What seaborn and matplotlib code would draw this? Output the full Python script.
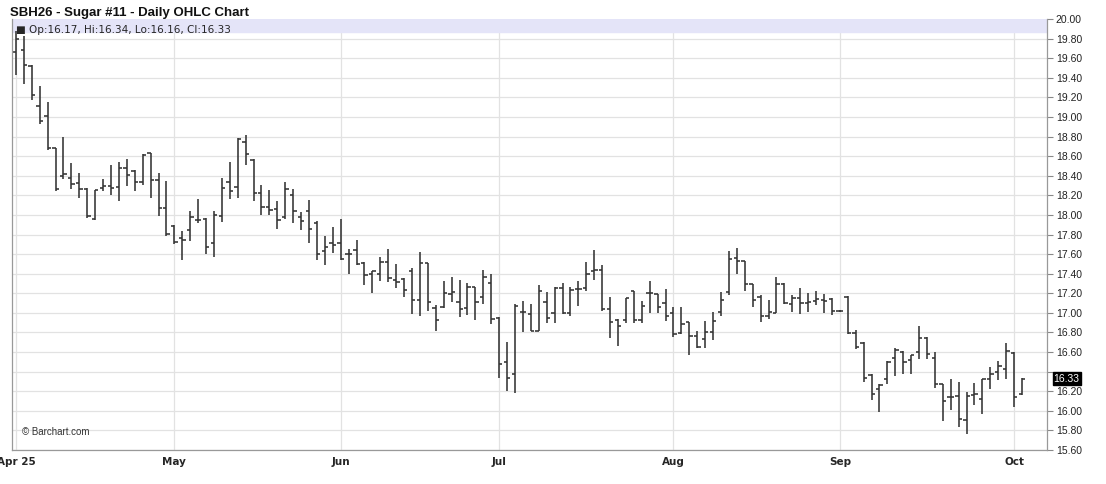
import numpy as np
import pandas as pd
import matplotlib
matplotlib.use("Agg")
import matplotlib.pyplot as plt
import seaborn as sns

# daily OHLC values (SBH26, Apr -> Oct)
opens = [19.66, 19.68, 19.52, 19.11, 19.01, 18.68, 18.40, 18.38, 18.33, 18.26,
         17.96, 18.28, 18.30, 18.29, 18.48, 18.45, 18.34, 18.63, 18.36, 18.07,
         17.89, 17.76, 17.85, 17.95, 17.96, 17.71, 17.99, 18.34, 18.29, 18.74,
         18.56, 18.22, 18.08, 18.06, 17.98, 18.20, 17.98, 18.04, 17.92, 17.63,
         17.71, 17.71, 17.60, 17.64, 17.51, 17.40, 17.40, 17.52, 17.34, 17.35,
         17.43, 17.13, 17.51, 17.05, 17.06, 17.19, 17.11, 17.05, 17.26, 17.16,
         17.30, 16.95, 16.50, 16.38, 17.01, 16.99, 16.81, 17.11, 17.00, 17.25,
         17.00, 17.24, 17.25, 17.43, 17.44, 17.04, 16.93, 16.93, 17.22, 16.93,
         17.20, 17.19, 17.10, 17.00, 16.79, 16.91, 16.76, 16.73, 16.80, 17.01,
         17.21, 17.56, 17.53, 17.29, 17.16, 16.97, 17.00, 17.29, 17.09, 17.15,
         17.10, 17.12, 17.13, 17.14, 17.02, 17.16, 16.79, 16.69, 16.37, 16.22,
         16.32, 16.54, 16.60, 16.52, 16.60, 16.74, 16.54, 16.27, 16.14, 16.15,
         15.91, 16.16, 16.12, 16.33, 16.40, 16.43, 16.59, 16.17]
highs = [19.88, 19.83, 19.53, 19.32, 19.15, 18.68, 18.80, 18.53, 18.43, 18.27,
         18.25, 18.37, 18.51, 18.54, 18.57, 18.46, 18.62, 18.63, 18.43, 18.35,
         17.90, 17.84, 18.04, 18.16, 17.97, 18.04, 18.38, 18.54, 18.79, 18.82,
         18.57, 18.31, 18.25, 18.14, 18.34, 18.26, 18.03, 18.15, 17.94, 17.78,
         17.88, 17.96, 17.65, 17.74, 17.52, 17.43, 17.57, 17.65, 17.50, 17.36,
         17.46, 17.62, 17.51, 17.08, 17.33, 17.37, 17.34, 17.31, 17.26, 17.44,
         17.40, 16.96, 16.70, 17.09, 17.12, 17.09, 17.28, 17.21, 17.26, 17.31,
         17.26, 17.33, 17.52, 17.64, 17.49, 17.16, 16.94, 17.15, 17.22, 17.12,
         17.33, 17.19, 17.24, 17.06, 17.06, 16.91, 16.81, 16.92, 17.01, 17.21,
         17.63, 17.66, 17.53, 17.29, 17.18, 17.13, 17.37, 17.31, 17.18, 17.25,
         17.20, 17.22, 17.19, 17.15, 17.03, 17.17, 16.83, 16.70, 16.38, 16.27,
         16.51, 16.64, 16.61, 16.57, 16.87, 16.75, 16.60, 16.27, 16.33, 16.29,
         16.19, 16.28, 16.33, 16.45, 16.51, 16.69, 16.60, 16.34]
lows = [19.43, 19.34, 19.17, 18.93, 18.66, 18.24, 18.37, 18.26, 18.17, 17.97,
        17.95, 18.24, 18.20, 18.14, 18.30, 18.24, 18.31, 18.17, 17.99, 17.78,
        17.70, 17.54, 17.73, 17.92, 17.60, 17.57, 17.93, 18.16, 18.17, 18.51,
        18.14, 18.00, 18.00, 17.86, 17.96, 17.92, 17.85, 17.71, 17.54, 17.49,
        17.61, 17.54, 17.40, 17.49, 17.28, 17.20, 17.33, 17.32, 17.25, 17.16,
        16.99, 16.97, 17.02, 16.81, 17.05, 17.11, 16.96, 16.98, 16.93, 17.09,
        16.89, 16.34, 16.20, 16.18, 16.80, 16.81, 16.81, 16.90, 16.90, 16.99,
        16.97, 17.07, 17.22, 17.34, 17.02, 16.74, 16.66, 16.90, 16.90, 16.90,
        17.00, 17.00, 16.92, 16.75, 16.78, 16.57, 16.64, 16.64, 16.72, 16.97,
        17.18, 17.40, 17.22, 17.06, 16.91, 16.94, 17.00, 17.09, 17.01, 16.99,
        17.01, 17.08, 17.00, 16.98, 17.01, 16.78, 16.63, 16.29, 16.11, 15.99,
        16.27, 16.36, 16.38, 16.38, 16.53, 16.53, 16.23, 15.90, 16.01, 15.84,
        15.76, 16.06, 15.97, 16.22, 16.31, 16.32, 16.04, 16.16]
closes = [19.80, 19.53, 19.22, 18.96, 18.68, 18.26, 18.42, 18.32, 18.26, 17.99,
          18.25, 18.30, 18.28, 18.48, 18.41, 18.34, 18.61, 18.36, 18.07, 17.81,
          17.72, 17.74, 17.98, 17.95, 17.67, 18.00, 18.27, 18.24, 18.78, 18.62,
          18.22, 18.08, 18.05, 17.95, 18.26, 18.04, 17.94, 17.86, 17.60, 17.67,
          17.69, 17.55, 17.60, 17.50, 17.39, 17.43, 17.52, 17.36, 17.32, 17.23,
          17.13, 17.51, 17.11, 16.93, 17.20, 17.21, 17.04, 17.26, 17.11, 17.37,
          16.94, 16.48, 16.34, 17.07, 17.01, 16.82, 17.22, 16.95, 17.25, 17.00,
          17.23, 17.24, 17.40, 17.44, 17.04, 16.91, 16.87, 17.15, 16.93, 17.07,
          17.20, 17.06, 16.97, 16.78, 16.89, 16.76, 16.65, 16.80, 16.92, 17.13,
          17.55, 17.53, 17.29, 17.13, 16.97, 17.01, 17.29, 17.10, 17.15, 17.10,
          17.11, 17.14, 17.12, 17.02, 17.02, 16.79, 16.65, 16.34, 16.17, 16.26,
          16.50, 16.62, 16.50, 16.57, 16.74, 16.58, 16.27, 16.10, 16.14, 15.92,
          16.15, 16.17, 16.32, 16.38, 16.46, 16.61, 16.14, 16.33]

month_labels = ["Apr 25", "May", "Jun", "Jul", "Aug", "Sep", "Oct"]
month_bars = [0, 20, 41, 61, 83, 104, 126]

df = pd.DataFrame({"open": opens, "high": highs, "low": lows, "close": closes})
df["bar"] = np.arange(len(df))
last = df.iloc[-1]

sns.set_style("white")
plt.rcParams["font.family"] = ["Liberation Sans", "DejaVu Sans"]

fig = plt.figure(figsize=(11.06, 4.84), dpi=100)
ax = fig.add_axes([0.0108, 0.0702, 0.9362, 0.8905])

bar_color = "#333333"
ax.vlines(df["bar"], df["low"], df["high"], color=bar_color, lw=1.15)
ax.hlines(df["open"], df["bar"] - 0.42, df["bar"], color=bar_color, lw=1.15)
ax.hlines(df["close"], df["bar"], df["bar"] + 0.42, color=bar_color, lw=1.15)

ax.set_xlim(-0.5, 130.2)
ax.set_ylim(15.6, 20.0)

# grid
yticks = np.round(np.arange(15.6, 20.001, 0.2), 2)
for y in yticks:
    ax.axhline(y, color="#e2e2e2", lw=0.9, zorder=0)
for b in month_bars:
    ax.axvline(b, color="#e2e2e2", lw=0.9, zorder=0)

# header band with last OHLC values
ax.axhspan(19.87, 20.0, color="#e4e4f8", zorder=1)
ax.text(0.004, 0.985, "■ Op:{:.2f}, Hi:{:.2f}, Lo:{:.2f}, Cl:{:.2f}".format(
            last["open"], last["high"], last["low"], last["close"]),
        transform=ax.transAxes, fontsize=7.5, va="top", ha="left",
        family=["DejaVu Sans"], zorder=3)

# right-hand price axis; the 16.40 label sits under the last-price box
ax.yaxis.tick_right()
ax.set_yticks(yticks)
ax.set_yticklabels(["" if abs(y - 16.4) < 1e-6 else f"{y:.2f}" for y in yticks],
                   fontsize=7.5, color="#222222")
ax.tick_params(axis="y", length=4, width=0.8, color="#888888", pad=2)

ax.set_xticks(month_bars)
ax.set_xticklabels(month_labels, fontsize=7.5, fontweight="bold",
                   family=["Liberation Sans Narrow", "DejaVu Sans"])
ax.tick_params(axis="x", length=3, width=0.8, color="#888888", pad=2)

for side in ["left", "bottom", "right"]:
    ax.spines[side].set_color("#999999")
    ax.spines[side].set_linewidth(0.9)
ax.spines["top"].set_visible(False)

# last price marker on the axis
ax.text(1.006, last["close"], f"{last['close']:.2f}", transform=ax.get_yaxis_transform(),
        fontsize=7.5, color="white", va="center", ha="left",
        bbox=dict(boxstyle="square,pad=0.1", fc="black", ec="black"))

ax.text(0.01, 0.03, "© Barchart.com", transform=ax.transAxes, fontsize=7,
        color="#333333", va="bottom", ha="left")

fig.text(0.009, 0.985, "SBH26 - Sugar #11 - Daily OHLC Chart", fontsize=9.5,
         fontweight="bold", va="top", ha="left", color="#111111")

fig.savefig("out.png", dpi=100)
